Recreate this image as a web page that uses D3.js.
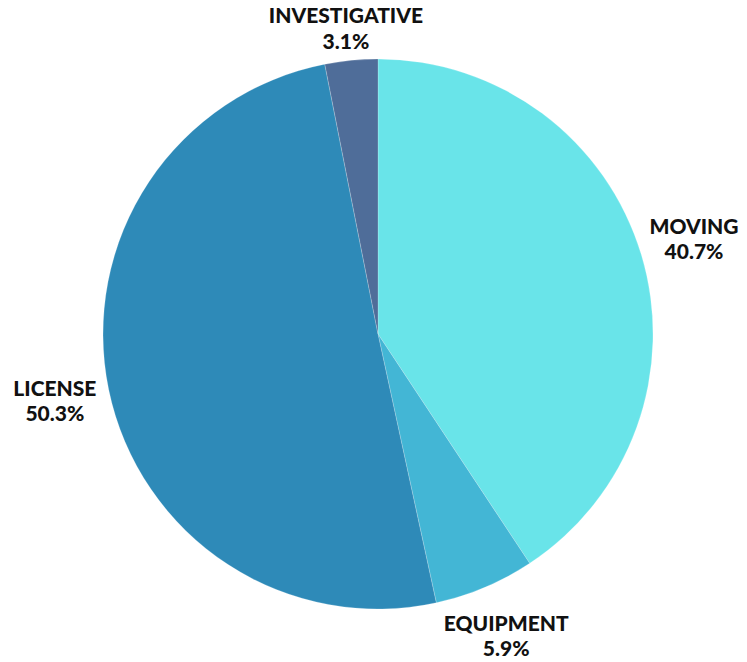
<!DOCTYPE html>
<html>
<head>
<meta charset="utf-8">
<script src="https://cdn.jsdelivr.net/npm/d3@7"></script>
<style>
  body { margin: 0; background: #fff; }
  text { font-family: Lato, "Open Sans", sans-serif; }
</style>
</head>
<body>
<svg id="chart"></svg>
<script>
const width = 747, height = 662;

// slices, clockwise from 12 o'clock
const categories = ["MOVING", "EQUIPMENT", "LICENSE", "INVESTIGATIVE"];
const shares = [40.7, 5.9, 50.3, 3.1];
const colors = ["#69e4e9", "#43b6d5", "#2e8ab8", "#4f6d99"];

const cx = 378, cy = 334, radius = 275;

const svg = d3.select("#chart")
  .attr("width", width)
  .attr("height", height);

const g = svg.append("g")
  .attr("transform", `translate(${cx},${cy})`);

const pie = d3.pie().sort(null).value(d => d.v);
const arcs = pie(categories.map((c, i) => ({ name: c, v: shares[i], color: colors[i] })));

const arc = d3.arc().innerRadius(0).outerRadius(radius);

g.selectAll("path")
  .data(arcs)
  .join("path")
  .attr("d", arc)
  .attr("fill", d => d.data.color)
  .attr("stroke", "#ffffff")
  .attr("stroke-opacity", 0.35)
  .attr("stroke-width", 0.6);

// labels outside, pushed back inside the canvas if needed
const labelR = 330;
const lineGap = 25.5;
const fs = 21;

arcs.forEach(d => {
  const a = (d.startAngle + d.endAngle) / 2;
  let x = Math.sin(a) * labelR;
  let y = -Math.cos(a) * labelR;
  const half = (lineGap + fs * 0.72) / 2;
  const top = cy + y - half, bottom = cy + y + half;
  if (top < 8) y += 8 - top;
  if (bottom > 656) y -= bottom - 656;

  const lbl = g.append("g").attr("font-size", fs)
    .attr("font-weight", 900)
    .attr("fill", "#111")
    .attr("text-anchor", "middle");
  lbl.append("text")
    .attr("x", x)
    .attr("y", y - half + fs * 0.72)
    .text(d.data.name);
  lbl.append("text")
    .attr("x", x)
    .attr("y", y + half)
    .text(d.data.v.toFixed(1) + "%");
});
</script>
</body>
</html>
